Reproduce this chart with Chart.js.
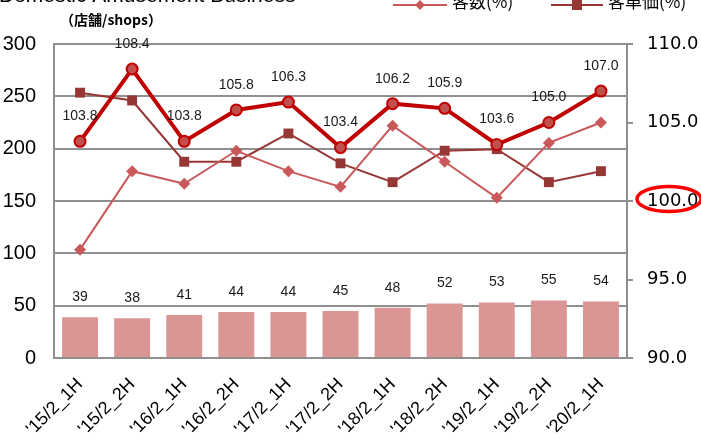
<!DOCTYPE html>
<html>
<head>
<meta charset="utf-8">
<script src="https://cdn.jsdelivr.net/npm/chart.js@4.4.1/dist/chart.umd.min.js"></script>
<style>
  html, body { margin: 0; padding: 0; background: #ffffff; }
  #wrap { position: relative; width: 701px; height: 439px; overflow: hidden; }
  canvas { display: block; }
</style>
</head>
<body>
<div id="wrap"><canvas id="c" width="701" height="439"></canvas></div>
<script>
// ---- Data ----
const categories = ["'15/2_1H", "'15/2_2H", "'16/2_1H", "'16/2_2H", "'17/2_1H", "'17/2_2H", "'18/2_1H", "'18/2_2H", "'19/2_1H", "'19/2_2H", "'20/2_1H"];
const shops = [39, 38, 41, 44, 44, 45, 48, 52, 53, 55, 54];
const sales = [103.8, 108.4, 103.8, 105.8, 106.3, 103.4, 106.2, 105.9, 103.6, 105.0, 107.0];
const customers = [96.9, 101.9, 101.1, 103.2, 101.9, 100.9, 104.8, 102.5, 100.2, 103.7, 105.0];
const spend = [106.9, 106.4, 102.5, 102.5, 104.3, 102.4, 101.2, 103.2, 103.3, 101.2, 101.9];
const leftTicks = [0, 50, 100, 150, 200, 250, 300];
const rightTicks = [90, 95, 100, 105, 110];
const titleText = "Domestic Amusement Business";
const unitText = "（店舗/shops）";
const legendCustomers = "客数(%)";
const legendSpend = "客単価(%)";

const GRID = '#8f8f8f';
const LATIN = '"Liberation Sans", Arial, sans-serif';
const CJK = '"Noto Sans CJK JP", "Noto Sans", sans-serif';

const decoPlugin = {
  id: 'deco',
  afterDatasetsDraw(chart) {
    const ctx = chart.ctx;
    ctx.save();
    ctx.fillStyle = '#1a1a1a';
    ctx.textAlign = 'center';
    ctx.textBaseline = 'middle';
    ctx.font = '14px ' + LATIN;
    chart.getDatasetMeta(3).data.forEach((el, i) => {
      ctx.fillText(String(shops[i]), el.x, el.y - 20);
    });
    chart.getDatasetMeta(0).data.forEach((el, i) => {
      ctx.fillText(sales[i].toFixed(1), el.x, el.y - 25);
    });
    ctx.restore();
  },
  afterDraw(chart) {
    const ctx = chart.ctx;
    ctx.save();
    // cut-off title
    ctx.fillStyle = '#000';
    ctx.textAlign = 'left';
    ctx.textBaseline = 'alphabetic';
    ctx.font = '21px ' + LATIN;
    ctx.fillText(titleText, -1, 2);
    // unit label
    ctx.font = 'bold 14px ' + CJK;
    ctx.textBaseline = 'middle';
    ctx.fillText(unitText, 60, 20);
    // legend (two visible entries)
    const items = [
      { ds: chart.data.datasets[1], x0: 393, x1: 447, tx: 452, text: legendCustomers },
      { ds: chart.data.datasets[2], x0: 551, x1: 603, tx: 608, text: legendSpend }
    ];
    const ly = 5;
    items.forEach(it => {
      ctx.strokeStyle = it.ds.borderColor;
      ctx.lineWidth = 2;
      ctx.beginPath(); ctx.moveTo(it.x0, ly); ctx.lineTo(it.x1, ly); ctx.stroke();
      const cx = (it.x0 + it.x1) / 2;
      ctx.fillStyle = it.ds.pointBackgroundColor;
      ctx.beginPath();
      if (it.ds.pointStyle === 'rectRot') {
        const r = 5;
        ctx.moveTo(cx - r, ly); ctx.lineTo(cx, ly - r); ctx.lineTo(cx + r, ly); ctx.lineTo(cx, ly + r); ctx.closePath();
      } else {
        ctx.rect(cx - 5, ly - 5, 10, 10);
      }
      ctx.fill();
      ctx.fillStyle = '#000';
      ctx.font = '17px ' + CJK;
      ctx.textBaseline = 'middle';
      ctx.fillText(it.text, it.tx, 2);
    });
    // red highlight ellipse around the 100.0 label
    const y2 = chart.scales.y2;
    const ey = y2.getPixelForValue(100) - 2;
    const ex = y2.left + 42;
    ctx.strokeStyle = '#ff0000';
    ctx.lineWidth = 3.5;
    ctx.beginPath();
    ctx.ellipse(ex, ey, 32, 12.5, 0, 0, Math.PI * 2);
    ctx.stroke();
    ctx.restore();
  }
};

new Chart(document.getElementById('c'), {
  data: {
    labels: categories,
    datasets: [
      {
        type: 'line', label: '売上高(%)', data: sales, yAxisID: 'y2', order: 1,
        borderColor: '#c00000', borderWidth: 4,
        pointStyle: 'circle', pointRadius: 5.5, pointBackgroundColor: '#c0504d',
        pointBorderColor: '#c00000', pointBorderWidth: 2, tension: 0
      },
      {
        type: 'line', label: legendCustomers, data: customers, yAxisID: 'y2', order: 2,
        borderColor: '#c9585a', borderWidth: 2,
        pointStyle: 'rectRot', pointRadius: 6, pointBackgroundColor: '#c9585a',
        pointBorderColor: '#c9585a', pointBorderWidth: 0, tension: 0
      },
      {
        type: 'line', label: legendSpend, data: spend, yAxisID: 'y2', order: 3,
        borderColor: '#953735', borderWidth: 2,
        pointStyle: 'rect', pointRadius: 7, pointBackgroundColor: '#953735',
        pointBorderColor: '#953735', pointBorderWidth: 0, tension: 0
      },
      {
        type: 'bar', label: '店舗数', data: shops, yAxisID: 'y', order: 4,
        backgroundColor: '#d99694', borderWidth: 0,
        categoryPercentage: 1.0, barPercentage: 0.69
      }
    ]
  },
  options: {
    responsive: false,
    devicePixelRatio: 1,
    animation: false,
    layout: { padding: { top: 44, left: 0, right: 0, bottom: 0 } },
    plugins: { legend: { display: false }, title: { display: false }, tooltip: { enabled: false } },
    scales: {
      x: {
        grid: { display: false, drawTicks: false },
        border: { display: true, color: GRID, width: 2 },
        ticks: {
          color: '#000', font: { family: LATIN, size: 18 },
          minRotation: 45, maxRotation: 45, padding: 16, autoSkip: false
        },
        afterFit(s) { s.height = 81; }
      },
      y: {
        position: 'left', min: 0, max: 300,
        afterBuildTicks(s) { s.ticks = leftTicks.map(v => ({ value: v })); },
        grid: { color: GRID, lineWidth: 2, drawTicks: false },
        border: { display: true, color: GRID, width: 2 },
        ticks: { color: '#000', font: { family: LATIN, size: 20 }, padding: 18 },
        afterFit(s) { s.width = 54; }
      },
      y2: {
        position: 'right', min: 90, max: 110,
        afterBuildTicks(s) { s.ticks = rightTicks.map(v => ({ value: v })); },
        grid: { drawOnChartArea: false, drawTicks: true, tickLength: 6, color: GRID, lineWidth: 2 },
        border: { display: true, color: GRID, width: 2 },
        ticks: {
          color: '#000', font: { family: '"DejaVu Sans", sans-serif', size: 18 }, padding: 14,
          callback: v => Number(v).toFixed(1)
        },
        afterFit(s) { s.width = 74; }
      }
    }
  },
  plugins: [decoPlugin]
});
</script>
</body>
</html>
